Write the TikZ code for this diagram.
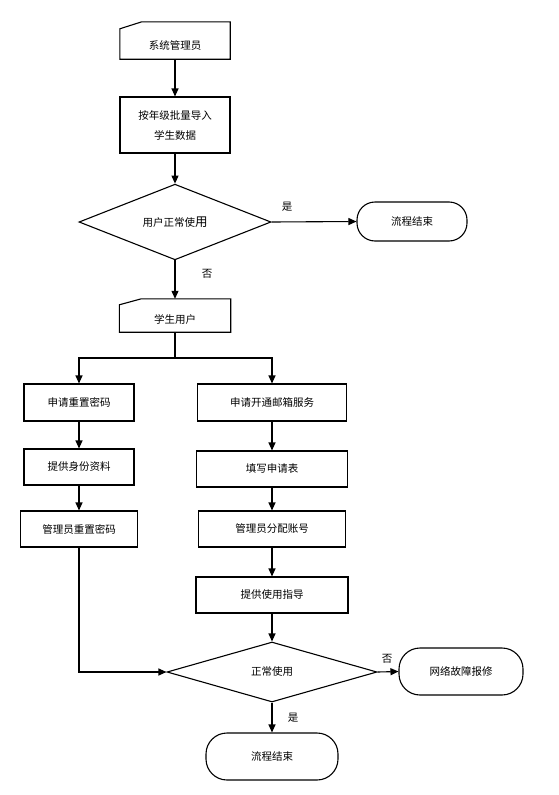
\documentclass[tikz,border=0pt]{standalone}
\usepackage{fontspec}
\newfontfamily\cjk{Noto Sans CJK SC}
\usetikzlibrary{shapes.geometric,arrows.meta}
\begin{document}
\begin{tikzpicture}[x=1pt,y=-1pt,
  txt/.style={font=\cjk\fontsize{10.5}{13}\selectfont},
  box/.style={txt,draw,line width=1.1pt,rectangle,inner sep=0pt,align=center},
  term/.style={box,rounded corners=#1},
  dia/.style={txt,draw,line width=1.1pt,diamond,inner sep=0pt},
  hidden/.style={txt,rectangle,inner sep=0pt},
  manual/.style={hidden},
  conn/.style={line width=1.1pt},
  arr/.style={conn,-{Triangle[length=8pt,width=7pt]}},
  lbl/.style={txt}
]
\useasboundingbox (0,0) rectangle (558,795);

% manual input 1
\node[manual,minimum width=110pt,minimum height=37pt] (m1) at (175,40.5) {\raisebox{-5pt}[\height][\depth]{系统管理员}};
\draw[conn] (m1.south west) -- (m1.south east) -- (m1.north east) -- ([xshift=22pt]m1.north west) -- ([yshift=-7pt]m1.north west) -- cycle;

\node[box,minimum width=110pt,minimum height=56pt] (b1) at (175,125) {按年级批量导入\\[7pt]学生数据};

\node[dia,minimum width=192pt,minimum height=60pt] (d1) at (175,222) {用户正常使{\fontsize{12.5}{13}\selectfont 用}};
\node[term=18pt,minimum width=110pt,minimum height=39pt] (t1) at (412,221.5) {流程结束};

% manual input 2
\node[manual,minimum width=111pt,minimum height=33pt] (m2) at (175,315.5) {\raisebox{-4pt}[\height][\depth]{学生用户}};
\draw[conn] (m2.south west) -- (m2.south east) -- (m2.north east) -- ([xshift=22pt]m2.north west) -- ([yshift=-6pt]m2.north west) -- cycle;

\coordinate (j) at (175,358);

% left column
\node[box,minimum width=110pt,minimum height=37pt] (l1) at (79,402.5) {申请重置密码};
\node[box,minimum width=110pt,minimum height=36pt] (l2) at (79,467) {提供身份资料};
\node[box,minimum width=117pt,minimum height=36pt] (l3) at (79,529) {管理员重置密码};

% right column
\node[box,minimum width=149pt,minimum height=37pt] (r1) at (272,402.5) {申请开通邮箱服务};
\node[box,minimum width=151pt,minimum height=36pt] (r2) at (272,469) {填写申请表};
\node[box,minimum width=147pt,minimum height=36pt] (r3) at (272,529) {管理员分配账号};
\node[box,minimum width=152pt,minimum height=36pt] (r4) at (272,595) {提供使用指导};

\node[dia,minimum width=210pt,minimum height=60pt] (d2) at (272,672) {正常使用};
\node[term=21pt,minimum width=124pt,minimum height=47pt] (t2) at (461,671.5) {网络故障报修};
\node[term=21pt,minimum width=132pt,minimum height=47pt] (t3) at (272,756.5) {流程结束};

% connectors
\draw[arr] (m1.south) -- (b1.north);
\draw[arr] (b1.south) -- (d1.north);
\draw[arr] (d1.east) -- (t1.west);
\node[lbl] (ly1) at (287,207) {是};
\draw[arr] (d1.south) -- (d1.south |- m2.north);
\node[lbl] (ln1) at (207,274) {否};

\draw[conn] (m2.south) -- (m2.south |- j);
\draw[arr] (m2.south |- j) -| (l1.north);
\draw[arr] (m2.south |- j) -| (r1.north);

\draw[arr] (l1.south) -- (l2.north);
\draw[arr] (l2.south) -- (l3.north);
\draw[arr] (l3.south) |- (d2.west);

\draw[arr] (r1.south) -- (r2.north);
\draw[arr] (r2.south) -- (r3.north);
\draw[arr] (r3.south) -- (r4.north);
\draw[arr] (r4.south) -- (d2.north);

\draw[arr] (d2.east) -- (t2.west);
\node[lbl] (ln2) at (387,659) {否};
\draw[arr] (d2.south) -- (t3.north);
\node[lbl] (ly2) at (293,718) {是};
\end{tikzpicture}
\end{document}
